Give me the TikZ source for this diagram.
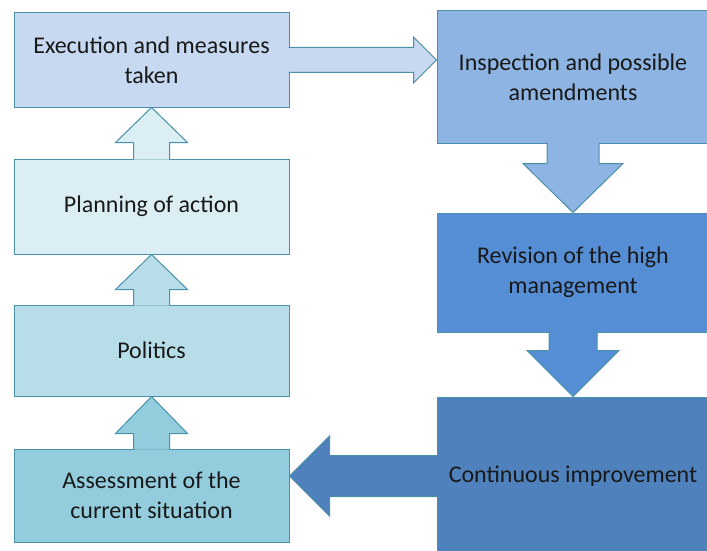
\documentclass[tikz,border=0pt]{standalone}
\usepackage{fontspec}
\setmainfont{Carlito}
\usetikzlibrary{calc,positioning}

\definecolor{edge}{HTML}{4A90A8}
\definecolor{execc}{HTML}{C6D9F1}
\definecolor{planc}{HTML}{DBEEF4}
\definecolor{politc}{HTML}{B7DEE8}
\definecolor{assessc}{HTML}{93CDDD}
\definecolor{inspc}{HTML}{8EB4E3}
\definecolor{revisc}{HTML}{558ED5}
\definecolor{continc}{HTML}{4F81BD}

\tikzset{
    stepbox/.style={draw=edge, line width=1pt, rectangle, align=center,
        font=\fontsize{24}{30}\selectfont, text=black!90},
    blockarr/.style={draw=edge, line width=1pt, line join=miter}
}

\begin{document}
\begin{tikzpicture}[x=1pt,y=-1pt]
    \useasboundingbox (0,0) rectangle (707,551);
    \clip (0,0) rectangle (707,551);

    % left column, read bottom to top
    \node[stepbox, fill=execc, minimum width=275, minimum height=94] (exec) at (151.5,60) {Execution and measures\\taken};
    \node[stepbox, fill=planc, minimum width=275, minimum height=95] (plan) at (151.5,206.5) {Planning of action};
    \node[stepbox, fill=politc, minimum width=275, minimum height=91] (polit) at (151.5,350.5) {Politics};
    \node[stepbox, fill=assessc, minimum width=275, minimum height=93] (assess) at (151.5,495.5) {Assessment of the\\current situation};

    % right column, read top to bottom
    \node[stepbox, fill=inspc, minimum width=272, minimum height=132] (insp) at (573,77) {Inspection and possible\\amendments};
    \node[stepbox, fill=revisc, minimum width=272, minimum height=119] (revis) at (573,272.5) {Revision of the high\\management};
    \node[stepbox, fill=continc, minimum width=272, minimum height=158] (contin) at (573,476) {Continuous improvement};

    % block arrows, open at the box they leave
    \filldraw[blockarr, fill=planc] ($(plan.north)+(-18,1)$) -- ++(0,-17) -- ++(-18,0)
        -- (exec.south) -- ($(plan.north)+(36,-16)$) -- ++(-18,0) -- ++(0,17);
    \filldraw[blockarr, fill=politc] ($(polit.north)+(-18,1)$) -- ++(0,-16) -- ++(-18,0)
        -- (plan.south) -- ($(polit.north)+(36,-15)$) -- ++(-18,0) -- ++(0,16);
    \filldraw[blockarr, fill=assessc] ($(assess.north)+(-18,1)$) -- ++(0,-16) -- ++(-18,0)
        -- (polit.south) -- ($(assess.north)+(36,-15)$) -- ++(-18,0) -- ++(0,16);

    \filldraw[blockarr, fill=execc] ($(exec.east)+(-1,-12.5)$) -- ++(125,0) -- ++(0,-10.5)
        -- (insp.west |- exec.east) -- ($(exec.east)+(124,23)$) -- ++(0,-10.5) -- ++(-125,0);

    \filldraw[blockarr, fill=inspc] ($(insp.south)+(-26,-1)$) -- ++(0,21) -- ++(-24,0)
        -- (revis.north) -- ($(insp.south)+(50,20)$) -- ++(-24,0) -- ++(0,-21);
    \filldraw[blockarr, fill=revisc] ($(revis.south)+(-24,-1)$) -- ++(0,19) -- ++(-22,0)
        -- (contin.north) -- ($(revis.south)+(46,18)$) -- ++(-22,0) -- ++(0,-19);

    \filldraw[blockarr, fill=continc] ($(contin.west)+(1,-20.5)$) -- ++(-108,0) -- ++(0,-19.5)
        -- (assess.east |- contin.west) -- ($(contin.west)+(-107,40)$) -- ++(0,-19.5) -- ++(108,0);
\end{tikzpicture}
\end{document}
